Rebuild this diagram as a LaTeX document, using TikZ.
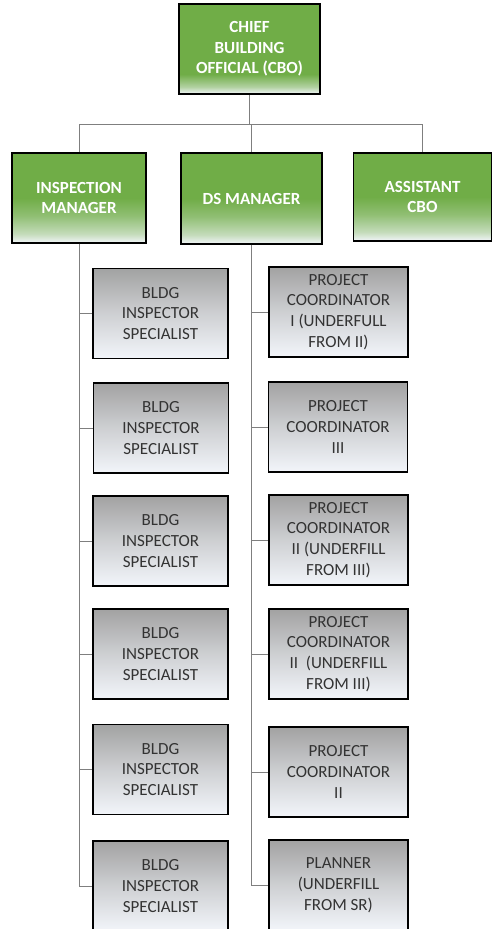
\documentclass[tikz,border=0pt]{standalone}
\usepackage{fontspec}
\setmainfont{Carlito}
\usetikzlibrary{calc}
\definecolor{greenc}{HTML}{70AD47}
\definecolor{lightc}{HTML}{F2F5FA}
\definecolor{grayc}{HTML}{A2A2A2}
\definecolor{txtc}{HTML}{333333}
\definecolor{linec}{HTML}{7F7F7F}
\colorlet{gmixA}{greenc!35!lightc}
\colorlet{gmixB}{greenc!75!lightc}
\colorlet{gmixC}{greenc!50!lightc}
\colorlet{graymid}{grayc!45!lightc}
\pgfdeclareverticalshading{greenlow}{100bp}{color(0bp)=(lightc); color(25bp)=(lightc); color(30bp)=(gmixA); color(40bp)=(gmixB); color(50bp)=(greenc); color(100bp)=(greenc)}
\pgfdeclareverticalshading{greentop}{100bp}{color(0bp)=(lightc); color(25bp)=(lightc); color(29bp)=(gmixC); color(36bp)=(greenc); color(100bp)=(greenc)}
\pgfdeclareverticalshading{grayfade}{100bp}{color(0bp)=(lightc); color(25bp)=(lightc); color(50bp)=(graymid); color(75bp)=(grayc); color(100bp)=(grayc)}
\tikzset{
  gbox/.style={draw=black, line width=1.5pt, shading=greenlow, inner sep=0pt,
    align=center, text=white, font=\bfseries\fontsize{17}{20.5}\selectfont},
  graybox/.style={draw=black, line width=1.5pt, shading=grayfade, inner sep=0pt,
    align=center, text=txtc, font=\fontsize{17}{20.8}\selectfont,
    minimum height=90pt},
  lbox/.style={graybox, minimum width=135pt},
  rbox/.style={graybox, minimum width=139pt},
  conn/.style={draw=linec, line width=1pt}
}
\begin{document}
\begin{tikzpicture}[x=1pt,y=-1pt]
\useasboundingbox (0,0) rectangle (493,929);
% top level
\node[gbox, shading=greentop, minimum width=141pt, minimum height=90pt] (cbo) at (249.5,49) {CHIEF\\BUILDING\\OFFICIAL (CBO)};
\node[gbox, minimum width=134pt, minimum height=90pt] (im) at (79,198) {INSPECTION\\MANAGER};
\node[gbox, minimum width=141pt, minimum height=91pt] (ds) at (251.5,198.5) {DS MANAGER};
\node[gbox, minimum width=138pt, minimum height=88pt] (ac) at (422.5,197) {ASSISTANT\\CBO};
\coordinate (bus) at (0,124);
% left column
\node[lbox] (l1) at (160.5,313.5) {BLDG\\INSPECTOR\\SPECIALIST};
\node[lbox] (l2) at (161,428) {BLDG\\INSPECTOR\\SPECIALIST};
\node[lbox] (l3) at (160.5,541) {BLDG\\INSPECTOR\\SPECIALIST};
\node[lbox] (l4) at (160.5,654) {BLDG\\INSPECTOR\\SPECIALIST};
\node[lbox] (l5) at (160.5,769.5) {BLDG\\INSPECTOR\\SPECIALIST};
\node[lbox] (l6) at (160.5,886) {BLDG\\INSPECTOR\\SPECIALIST};
% right column
\node[rbox] (r1) at (338.5,312) {PROJECT\\COORDINATOR\\I (UNDERFULL\\FROM II)};
\node[rbox] (r2) at (338,427) {PROJECT\\COORDINATOR\\III};
\node[rbox] (r3) at (338.5,540) {PROJECT\\COORDINATOR\\II (UNDERFILL\\FROM III)};
\node[rbox] (r4) at (338.5,654) {PROJECT\\COORDINATOR\\II\ \ (UNDERFILL\\FROM III)};
\node[rbox] (r5) at (338.5,772) {PROJECT\\COORDINATOR\\II};
\node[rbox] (r6) at (338.5,885) {PLANNER\\(UNDERFILL\\FROM SR)};
% connectors
\draw[conn] (cbo.south) -- (cbo.south |- bus);
\draw[conn] (cbo.south |- bus) -| (im.north);
\draw[conn] (cbo.south |- bus) -| (ds.north);
\draw[conn] (cbo.south |- bus) -| (ac.north);
\foreach \n in {l1,l2,l3,l4,l5,l6}{\draw[conn] (im.south) |- (\n.west);}
\foreach \n in {r1,r2,r3,r4,r5,r6}{\draw[conn] (ds.south) |- (\n.west);}
\end{tikzpicture}
\end{document}
